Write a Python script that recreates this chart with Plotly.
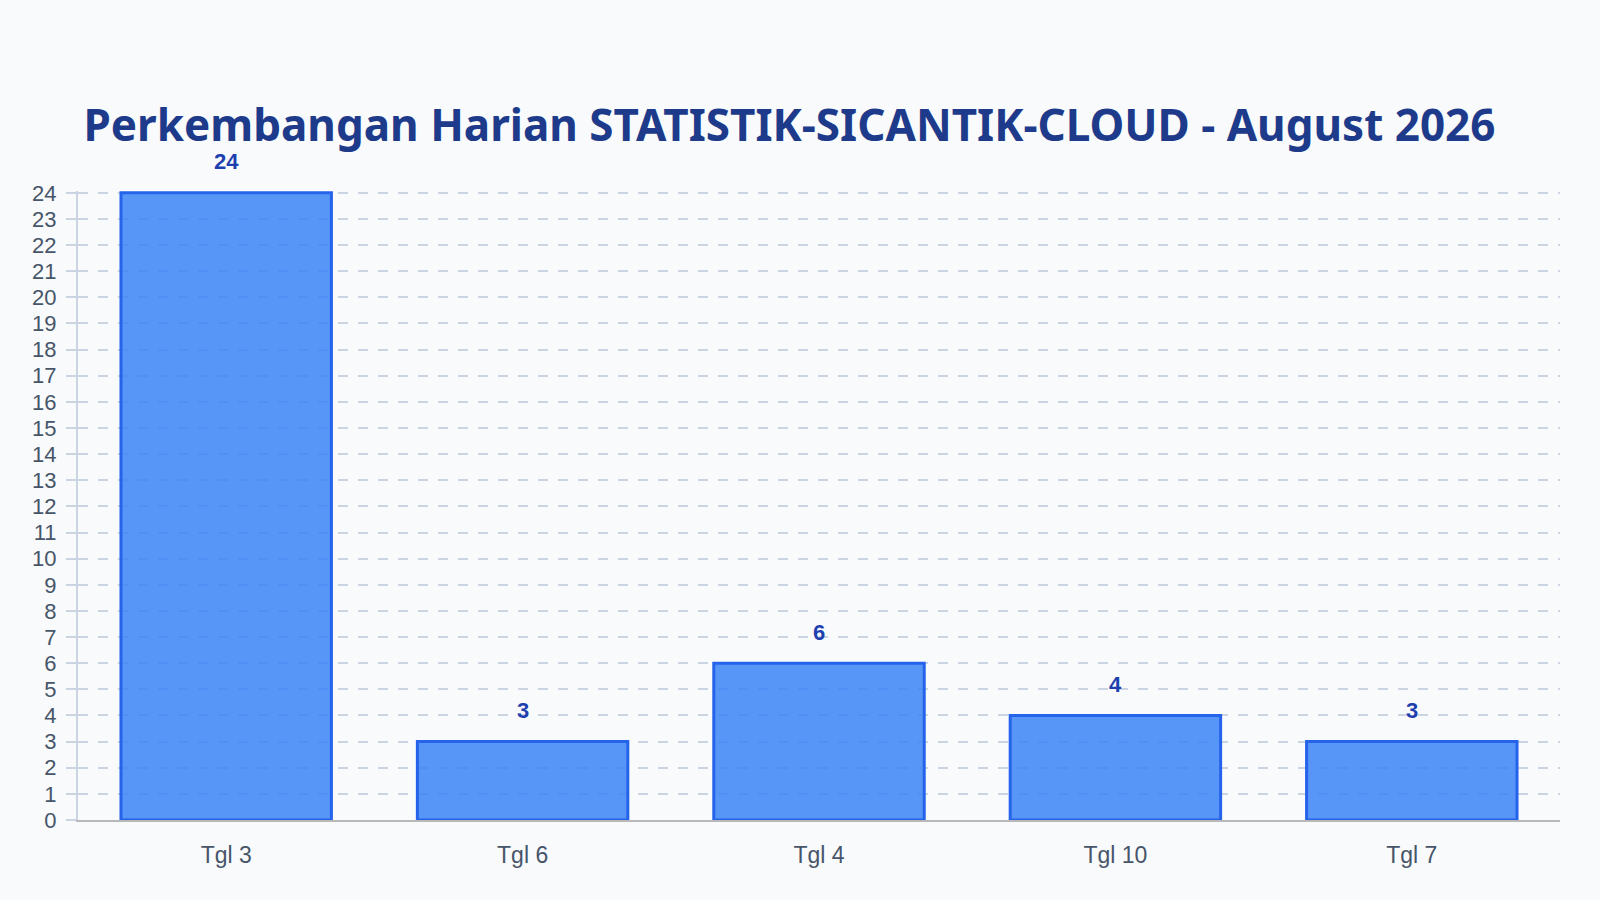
import plotly.graph_objects as go

# data
tanggal = ["Tgl 3", "Tgl 6", "Tgl 4", "Tgl 10", "Tgl 7"]
jumlah = [24, 3, 6, 4, 3]
y_ticks = list(range(0, 25))

judul = "Perkembangan Harian STATISTIK-SICANTIK-CLOUD - August 2026"

fig = go.Figure()

fig.add_trace(go.Bar(
    x=tanggal, y=jumlah,
    marker=dict(color="rgba(59,130,246,0.85)", line=dict(color="#2563eb", width=3)),
    hoverinfo="x+y",
))

# label angka di atas batang
for t, v in zip(tanggal, jumlah):
    fig.add_annotation(x=t, y=v, text="<b>%d</b>" % v, showarrow=False,
                       yanchor="middle", yshift=31,
                       font=dict(family="Liberation Sans", size=22, color="#1e40af"))

fig.update_layout(
    width=1600, height=900,
    paper_bgcolor="#f8fafc", plot_bgcolor="#f8fafc",
    title=dict(text="<b>" + judul + "</b>", x=0.4934, xanchor="center", y=0.861, yanchor="middle",
               font=dict(family="Noto Sans", size=44, color="#1e3a8a")),
    margin=dict(l=78, r=40, t=191, b=80),
    bargap=0.29,
    showlegend=False,
)

# range sedikit di atas 24 agar garis grid paling atas tetap tergambar
fig.update_yaxes(range=[0, 24.07], tickvals=y_ticks, showgrid=True, gridcolor="#cbd5e1",
                 griddash="10px,10px", gridwidth=2, showline=True, linecolor="#cbd5e1", linewidth=2,
                 ticks="outside", ticklen=10, tickwidth=2, tickcolor="#cbd5e1", zeroline=False,
                 ticklabelstandoff=5,
                 tickfont=dict(family="Liberation Sans", size=22, color="#475569"))
fig.update_xaxes(showline=True, linecolor="#b8b8b8", linewidth=2, ticks="", showgrid=False,
                 tickfont=dict(family="Liberation Sans", size=23, color="#475569"), ticklabelstandoff=13)

# hilangkan margin bawaan halaman supaya grafik menempel di pojok
fig.write_html("out.html", config={"displayModeBar": False},
               post_script="document.body.style.margin='0';document.body.style.background='#f8fafc';")
